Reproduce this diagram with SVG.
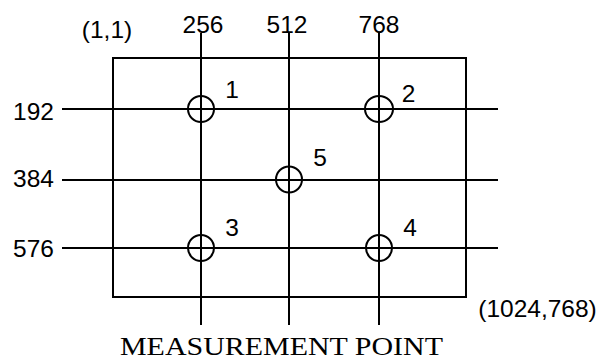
<svg xmlns="http://www.w3.org/2000/svg" width="602" height="360" viewBox="0 0 602 360">
<style>
.ln{stroke:#000;stroke-width:2;fill:none}
.t{font-family:"Liberation Sans",Arial,sans-serif;font-size:24.5px;fill:#000;text-anchor:middle}
.s{font-family:"Liberation Serif","Times New Roman",serif;font-size:25px;fill:#000;text-anchor:middle}
</style>
<rect width="602" height="360" fill="#fff"/>
<g id="connectors">
<rect class="ln" x="113" y="58" width="353" height="239"/>
<line class="ln" x1="201" y1="33" x2="201" y2="325"/>
<line class="ln" x1="289" y1="33" x2="289" y2="325"/>
<line class="ln" x1="379" y1="33" x2="379" y2="325"/>
<line class="ln" x1="62" y1="109" x2="498" y2="109"/>
<line class="ln" x1="62" y1="180" x2="498" y2="180"/>
<line class="ln" x1="62" y1="248" x2="498" y2="248"/>
</g>
<g id="p1"><circle class="ln" cx="201" cy="109" r="13"/><text class="t" x="232" y="98">1</text></g>
<g id="p2"><ellipse class="ln" cx="379" cy="109" rx="14" ry="13"/><text class="t" x="408.5" y="102">2</text></g>
<g id="p5"><circle class="ln" cx="289" cy="179.5" r="13"/><text class="t" x="320" y="166">5</text></g>
<g id="p3"><circle class="ln" cx="201" cy="248" r="13"/><text class="t" x="232" y="236">3</text></g>
<g id="p4"><circle class="ln" cx="379" cy="248" r="13"/><text class="t" x="410" y="236">4</text></g>
<g id="labels">
<text class="t" x="107" y="38">(1,1)</text>
<text class="t" x="203" y="32.5">256</text>
<text class="t" x="287" y="32.5">512</text>
<text class="t" x="379" y="32.5">768</text>
<text class="t" x="33.5" y="119.5">192</text>
<text class="t" x="33.5" y="187">384</text>
<text class="t" x="33.5" y="257">576</text>
<text class="t" x="537.5" y="317">(1024,768)</text>
<text class="s" x="281.5" y="354.5" textLength="323" lengthAdjust="spacingAndGlyphs">MEASUREMENT POINT</text>
</g>
</svg>
